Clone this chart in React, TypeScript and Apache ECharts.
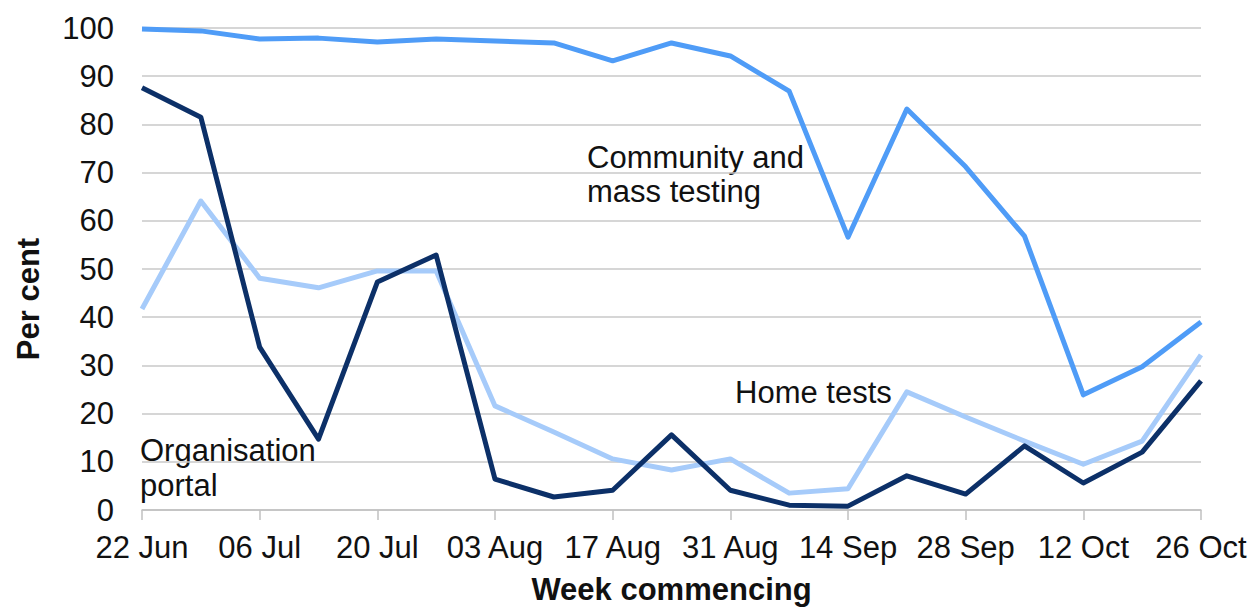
import React, { useEffect, useRef } from "react";
import * as echarts from "echarts";

const weeks = [
  "22 Jun", "29 Jun", "06 Jul", "13 Jul", "20 Jul", "27 Jul", "03 Aug", "10 Aug",
  "17 Aug", "24 Aug", "31 Aug", "07 Sep", "14 Sep", "21 Sep", "28 Sep", "05 Oct",
  "12 Oct", "19 Oct", "26 Oct",
];

const communityMass = [
  99.8, 99.4, 97.7, 97.9, 97.1, 97.7, 97.3, 96.9, 93.2, 96.9, 94.2, 86.9, 56.6,
  83.2, 71.2, 56.8, 23.9, 29.7, 39.0,
];

const organisationPortal = [
  87.6, 81.5, 33.8, 14.7, 47.3, 52.9, 6.4, 2.7, 4.1, 15.6, 4.1, 1.0, 0.8, 7.1,
  3.3, 13.3, 5.6, 12.0, 26.8,
];

const homeTests = [
  41.7, 64.1, 48.1, 46.1, 49.6, 49.6, 21.6, 16.2, 10.6, 8.3, 10.6, 3.5, 4.4,
  24.5, 19.3, 14.3, 9.5, 14.3, 32.2,
];

const FONT = "'Liberation Sans', Arial, sans-serif";
const FS = 31;

export default function App() {
  const ref = useRef<HTMLDivElement>(null);

  useEffect(() => {
    if (!ref.current) return;
    const chart = echarts.init(ref.current, null, { renderer: "svg" });
    const lineStyle = (color: string) => ({ color, width: 5, join: "round" as const });
    chart.setOption({
      animation: false,
      backgroundColor: "#ffffff",
      grid: {
        left: 142,
        right: 52,
        top: 28,
        bottom: 97,
        containLabel: false,
        outerBoundsMode: "none",
      },
      xAxis: {
        type: "category",
        data: weeks,
        boundaryGap: false,
        axisLine: { show: true, lineStyle: { color: "#c0c0c0", width: 1.5 } },
        axisTick: { show: true, interval: 1, length: 10, lineStyle: { color: "#c0c0c0", width: 1.5 } },
        axisLabel: { interval: 1, margin: 22, color: "#111", fontSize: FS, fontFamily: FONT },
        splitLine: { show: false },
        name: "Week commencing",
        nameLocation: "middle",
        nameGap: 64,
        nameTextStyle: { fontSize: FS, fontWeight: "bold", color: "#111", fontFamily: FONT },
      },
      yAxis: {
        type: "value",
        min: 0,
        max: 100,
        interval: 10,
        axisLine: { show: false },
        axisTick: { show: false },
        axisLabel: { margin: 28, color: "#111", fontSize: FS, fontFamily: FONT },
        splitLine: { show: true, lineStyle: { color: "#c8c8c8", width: 1.5 } },
      },
      series: [
        {
          name: "Home tests",
          type: "line",
          data: homeTests,
          symbol: "none",
          lineStyle: lineStyle("#a6cbfa"),
          z: 2,
        },
        {
          name: "Organisation portal",
          type: "line",
          data: organisationPortal,
          symbol: "none",
          lineStyle: lineStyle("#0c3068"),
          z: 3,
        },
        {
          name: "Community and mass testing",
          type: "line",
          data: communityMass,
          symbol: "none",
          lineStyle: lineStyle("#4f9cf7"),
          z: 4,
        },
      ],
      graphic: [
        {
          type: "text",
          x: 28,
          y: 299,
          rotation: Math.PI / 2,
          style: {
            text: "Per cent",
            fontSize: FS,
            fontWeight: "bold",
            fill: "#111",
            fontFamily: FONT,
            align: "center",
            verticalAlign: "middle",
          },
        },
        {
          type: "text",
          x: 587,
          y: 140,
          style: {
            text: "Community and\nmass testing",
            fontSize: FS,
            lineHeight: 34,
            fill: "#111",
            fontFamily: FONT,
          },
        },
        {
          type: "text",
          x: 735,
          y: 377,
          style: { text: "Home tests", fontSize: FS, fill: "#111", fontFamily: FONT },
        },
        {
          type: "text",
          x: 140,
          y: 433,
          style: {
            text: "Organisation\nportal",
            fontSize: FS,
            lineHeight: 35,
            fill: "#111",
            fontFamily: FONT,
          },
        },
      ],
    });
    return () => chart.dispose();
  }, []);

  return (
    <div
      ref={ref}
      style={{ position: "fixed", left: 0, top: 0, width: 1253, height: 607, background: "#fff" }}
    />
  );
}
